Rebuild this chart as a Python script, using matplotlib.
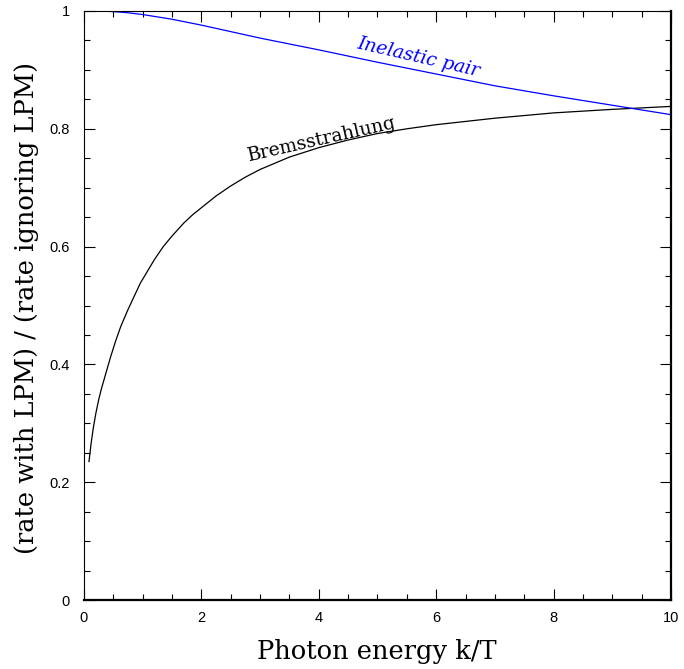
import matplotlib
matplotlib.use("Agg")
import matplotlib.pyplot as plt
from matplotlib.ticker import MultipleLocator

# values
brems_k = [0.085, 0.12, 0.16, 0.20, 0.25, 0.295, 0.37, 0.454, 0.54, 0.625,
           0.74, 0.852, 0.96, 1.08, 1.20, 1.35, 1.50, 1.70, 1.85, 2.00, 2.25,
           2.50, 2.75, 3.00, 3.50, 4.00, 4.50, 5.00, 5.50, 6.00, 7.00, 8.00,
           9.00, 10.00]
brems_r = [0.235, 0.265, 0.293, 0.316, 0.340, 0.358, 0.384, 0.413, 0.440,
           0.464, 0.491, 0.515, 0.538, 0.558, 0.578, 0.600, 0.618, 0.640,
           0.654, 0.666, 0.686, 0.703, 0.718, 0.731, 0.752, 0.768, 0.781,
           0.792, 0.800, 0.807, 0.818, 0.827, 0.833, 0.838]

pair_k = [0.0, 0.25, 0.5, 0.75, 1.0, 1.25, 1.5, 1.75, 2.0, 2.5, 3.0, 3.5, 4.0,
          5.0, 6.0, 7.0, 8.0, 9.0, 10.0]
pair_r = [1.000, 1.000, 0.999, 0.997, 0.994, 0.990, 0.986, 0.981, 0.976,
          0.965, 0.954, 0.944, 0.934, 0.913, 0.893, 0.873, 0.856, 0.840,
          0.824]

XLABEL = "Photon energy k/T"
YLABEL = "(rate with LPM) / (rate ignoring LPM)"

W, H = 684, 669
fig = plt.figure(figsize=(W / 100, H / 100), dpi=100)
ax = fig.add_axes([84 / W, 1 - 600 / H, 587 / W, 589 / H])

ax.plot(brems_k, brems_r, color="black", linewidth=0.9)
ax.plot(pair_k, pair_r, color="#0000ff", linewidth=0.9)

# curve labels, placed in figure fractions
fig.text(418 / W, 1 - 57 / H, "Inelastic pair", rotation=-13,
         rotation_mode="anchor", ha="center", va="center",
         family="DejaVu Serif", style="italic", fontsize=13.5, color="#0000ff")
fig.text(322 / W, 1 - 139 / H, "Bremsstrahlung", rotation=12.8,
         rotation_mode="anchor", ha="center", va="center",
         family="DejaVu Serif", fontsize=13.5, color="black")

ax.set_xlim(0, 10)
ax.set_ylim(0, 1)
ax.xaxis.set_major_locator(MultipleLocator(2))
ax.xaxis.set_minor_locator(MultipleLocator(0.5))
ax.yaxis.set_major_locator(MultipleLocator(0.2))
ax.yaxis.set_minor_locator(MultipleLocator(0.05))
ax.set_xticks(ax.get_xticks())
ax.set_xticklabels([f"{v:g}" for v in ax.get_xticks()])
ax.set_yticks(ax.get_yticks())
ax.set_yticklabels([f"{v:g}" for v in ax.get_yticks()])
ax.set_xlim(0, 10)
ax.set_ylim(0, 1)
ax.tick_params(which="both", direction="in", top=True, right=True,
               width=0.8, labelsize=10.5)
ax.tick_params(axis="y", pad=10)
ax.tick_params(axis="x", pad=8)
ax.tick_params(which="major", length=8)
ax.tick_params(which="minor", length=4.3)
for lab in ax.get_xticklabels() + ax.get_yticklabels():
    lab.set_family("Liberation Sans")

ax.spines["left"].set_linewidth(0.8)
ax.spines["top"].set_linewidth(0.8)
ax.spines["bottom"].set_linewidth(1.6)
ax.spines["right"].set_linewidth(1.6)

fig.text(377 / W, 1 - 652 / H, XLABEL, ha="center", va="center",
         family="DejaVu Serif", fontsize=18.5)
fig.text(27 / W, 1 - 308 / H, YLABEL, ha="center", va="center",
         rotation=90, family="DejaVu Serif", fontsize=18.5)

fig.savefig("out.png", dpi=100)
